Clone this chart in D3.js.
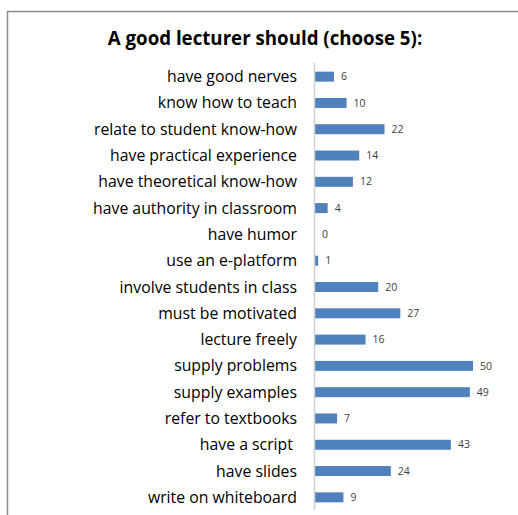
<!DOCTYPE html>
<html><head><meta charset="utf-8">
<script src="https://cdn.jsdelivr.net/npm/d3@7"></script>
<style>html,body{margin:0;padding:0;background:#fff;}svg{display:block;}</style>
</head><body>
<script>
const categories = ["have good nerves","know how to teach","relate to student know-how","have practical experience","have theoretical know-how","have authority in classroom","have humor","use an e-platform","involve students in class","must be motivated","lecture freely","supply problems","supply examples","refer to textbooks","have a script ","have slides","write on whiteboard"];
const values = [6,10,22,14,12,4,0,1,20,27,16,50,49,7,43,24,9];
const title = "A good lecturer should (choose 5):";

const W = 518, H = 515;
const svg = d3.select("body").append("svg").attr("width", W).attr("height", H);
const font = "'Open Sans', sans-serif";

// frame
svg.append("path").attr("d", `M7.5,${H} V11.5 H${W}`).attr("fill","none").attr("stroke","#8c8c8c").attr("stroke-width",1.5);

svg.append("text").attr("x", 265).attr("y", 45).attr("text-anchor","middle")
  .attr("font-family", font).attr("font-weight","bold").attr("font-size", 18.7).attr("fill","#000").text(title);

const x0 = 315;
const x = d3.scaleLinear().domain([0, 50]).range([x0, x0 + 158]);
const y = d3.scaleBand().domain(categories).range([63.5, 510.5]).paddingInner(0.62).paddingOuter(0.31);

svg.selectAll("rect.bar").data(values).enter().append("rect")
  .attr("x", x0).attr("y", (d,i)=>y(categories[i]))
  .attr("width", d=>x(d)-x0).attr("height", y.bandwidth())
  .attr("fill","#4f81bd");

svg.selectAll("text.val").data(values).enter().append("text")
  .attr("x", d=>x(d)+7).attr("y", (d,i)=>y(categories[i])+y.bandwidth()/2)
  .attr("dy","0.35em").attr("font-family", font).attr("font-size", 10.5).attr("fill","#404040").text(d=>d);

svg.selectAll("text.cat").data(categories).enter().append("text")
  .attr("x", 297).attr("y", d=>y(d)+y.bandwidth()/2).attr("dy","0.35em")
  .attr("text-anchor","end").attr("font-family", font).attr("font-size", 15.8).attr("fill","#000")
  .attr("xml:space","preserve").text(d=>d);

svg.append("line").attr("x1", x0-0.5).attr("x2", x0-0.5).attr("y1", 63).attr("y2", 510)
  .attr("stroke","#d0d0d0").attr("stroke-width",1.5);
</script>
</body></html>
